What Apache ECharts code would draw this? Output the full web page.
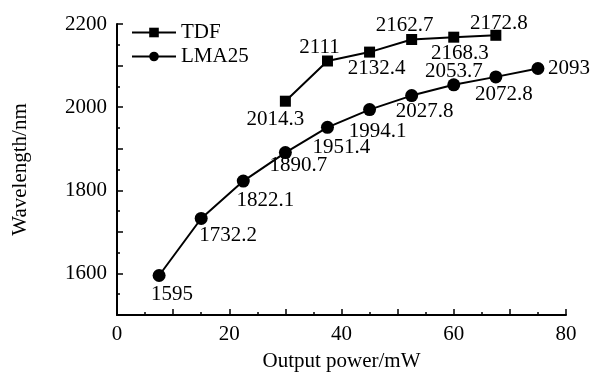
<!DOCTYPE html>
<html>
<head>
<meta charset="utf-8">
<script src="https://cdn.jsdelivr.net/npm/echarts@6/dist/echarts.min.js"></script>
<style>
  html, body { margin: 0; padding: 0; background: #fff; }
  #chart { width: 593px; height: 373px; }
</style>
</head>
<body>
<div id="chart"></div>
<script>
// data
const tdfPower = [30, 37.5, 45, 52.5, 60, 67.5];
const tdfWave = [2014.3, 2111, 2132.4, 2162.7, 2168.3, 2172.8];
const lmaPower = [7.5, 15, 22.5, 30, 37.5, 45, 52.5, 60, 67.5, 75];
const lmaWave = [1595, 1732.2, 1822.1, 1890.7, 1951.4, 1994.1, 2027.8, 2053.7, 2072.8, 2093];

// where each value label sits relative to its point (px)
const tdfLabelOffset = [[-10, 18], [-8, -14], [7, 16], [-7, -14], [6, 16], [3, -12]];
const lmaLabelOffset = [[13, 19], [27, 17], [22, 19], [13, 13], [14, 20], [8, 22], [13, 16], [0, -13], [8, 18], [31, 0]];

const font = 'Liberation Serif, Times New Roman, serif';
const fs = 21;

const buildSeries = (name, xs, ys, offsets, symbol, symbolSize) => ({
  type: 'line',
  name: name,
  data: xs.map((x, i) => ({
    value: [x, ys[i]],
    label: { offset: offsets[i] },
  })),
  symbol: symbol,
  symbolSize: symbolSize,
  lineStyle: { color: '#000', width: 2 },
  itemStyle: { color: '#000' },
  label: {
    show: true,
    position: 'inside',
    color: '#000',
    fontFamily: font,
    fontSize: fs,
    formatter: (p) => String(p.value[1]),
  },
  emphasis: { disabled: true },
  animation: false,
});

const chart = echarts.init(document.getElementById('chart'));
chart.setOption({
  backgroundColor: '#fff',
  animation: false,
  grid: { left: 117, right: 27, top: 24, bottom: 58, outerBoundsMode: 'none' },
  legend: {
    left: 126,
    top: 17,
    orient: 'vertical',
    itemWidth: 44,
    itemHeight: 12,
    itemGap: 3,
    textStyle: { fontFamily: font, fontSize: fs, color: '#000' },
    data: ['TDF', 'LMA25'],
  },
  xAxis: {
    type: 'value',
    min: 0,
    max: 80,
    interval: 10,
    name: 'Output power/mW',
    nameLocation: 'middle',
    nameGap: 36,
    nameTextStyle: { fontFamily: font, fontSize: fs, color: '#000' },
    axisLine: { lineStyle: { color: '#000', width: 2 } },
    axisTick: { inside: true, length: 6, lineStyle: { color: '#000', width: 1.5 } },
    minorTick: { show: true, splitNumber: 2, length: 3, lineStyle: { color: '#000', width: 1.5 } },
    splitLine: { show: false },
    axisLabel: {
      fontFamily: font,
      fontSize: fs,
      color: '#000',
      margin: 9,
      formatter: (v) => (v % 20 === 0 ? String(v) : ''),
    },
  },
  yAxis: {
    type: 'value',
    min: 1500,
    max: 2200,
    interval: 100,
    name: 'Wavelength/nm',
    nameLocation: 'middle',
    nameGap: 86,
    nameTextStyle: { fontFamily: font, fontSize: fs, color: '#000' },
    axisLine: { show: true, lineStyle: { color: '#000', width: 2 } },
    axisTick: { show: true, inside: true, length: 6, lineStyle: { color: '#000', width: 1.5 } },
    minorTick: { show: true, splitNumber: 2, length: 3, lineStyle: { color: '#000', width: 1.5 } },
    splitLine: { show: false },
    axisLabel: {
      fontFamily: font,
      fontSize: fs,
      color: '#000',
      margin: 10,
      formatter: (v) => (v % 200 === 0 ? String(v) : ''),
    },
  },
  series: [
    buildSeries('TDF', tdfPower, tdfWave, tdfLabelOffset, 'rect', 11),
    buildSeries('LMA25', lmaPower, lmaWave, lmaLabelOffset, 'circle', 13),
  ],
});
</script>
</body>
</html>
